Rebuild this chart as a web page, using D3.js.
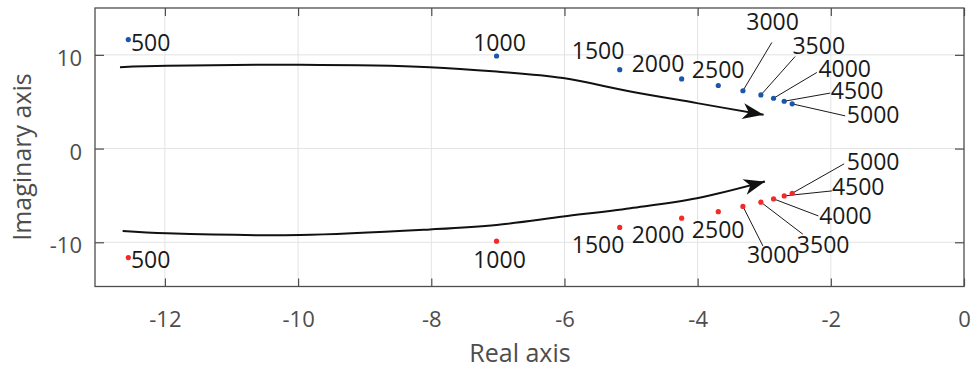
<!DOCTYPE html>
<html>
<head>
<meta charset="utf-8">
<script src="https://cdn.jsdelivr.net/npm/d3@7"></script>
<style>
  html, body { margin: 0; padding: 0; background: #fff; }
  svg { display: block; }
  text { font-family: "Open Sans", "Noto Sans", sans-serif; }
</style>
</head>
<body>
<svg id="chart" width="974" height="371"></svg>
<script>
// Rotor speeds (rpm) for each pole pair
const speeds = [500, 1000, 1500, 2000, 2500, 3000, 3500, 4000, 4500, 5000];

// Pole locations: p = re ± j·im
const poleRe = [-12.55, -7.02, -5.17, -4.24, -3.69, -3.32, -3.05, -2.86, -2.70, -2.58];
const poleIm = [11.63, 9.88, 8.42, 7.43, 6.73, 6.17, 5.72, 5.37, 5.05, 4.77];

// Speed label anchors (left edge, baseline) in axis units
const upperLabelRe = [-12.51, -7.37, -5.89, -4.99, -4.087, -3.27, -2.576, -2.186, -2.00, -1.759];
const upperLabelIm = [10.43, 10.43, 9.53, 8.12, 7.51, 12.67, 10.11, 7.62, 5.27, 2.78];
const lowerLabelRe = [-12.51, -7.37, -5.89, -4.99, -4.087, -3.26, -2.51, -2.175, -1.984, -1.759];
const lowerLabelIm = [-12.77, -12.77, -11.17, -10.10, -9.57, -12.17, -11.10, -8.04, -4.94, -2.27];

// Leader lines for the crowded labels: start point near text, end at the pole
const leaderSpeeds = [3000, 3500, 4000, 4500, 5000];
const upperLeaderRe = [-2.886, -2.536, -2.21, -2.01, -1.785];
const upperLeaderIm = [11.32, 9.82, 8.12, 5.92, 3.49];
const lowerLeaderRe = [-3.02, -2.42, -2.186, -1.984, -1.80];
const lowerLeaderIm = [-10.39, -9.14, -7.19, -4.52, -1.63];

// Trend arrows (increasing speed)
const upperArrowRe = [-12.675, -11.97, -9.97, -8.02, -7.02, -6.02, -5.01, -4.01, -3.01];
const upperArrowIm = [8.69, 8.83, 8.94, 8.69, 8.22, 7.52, 6.09, 4.85, 3.60];
const lowerArrowRe = [-12.635, -11.97, -9.97, -8.02, -7.02, -6.02, -5.01, -4.01, -2.99];
const lowerArrowIm = [-8.79, -9.05, -9.22, -8.63, -8.15, -7.26, -6.36, -5.30, -3.52];

// Axis ticks
const xTicks = [-12, -10, -8, -6, -4, -2, 0];
const yTicks = [-10, 0, 10];

const svg = d3.select("#chart");
const plotL = 95, plotR = 964, plotT = 8, plotB = 286.5;

const x = d3.scaleLinear().domain([-13.05, 0]).range([plotL, plotR]);
const y = d3.scaleLinear().domain([-14.72, 15]).range([plotB, plotT]);

// Plain hyphen-minus for negative tick labels
const tickFmt = d => String(d);

// Grid
const grid = svg.append("g").attr("stroke", "#e3e3e3").attr("stroke-width", 1);
grid.selectAll("line.vx").data(xTicks.filter(t => x(t) > plotL + 1 && x(t) < plotR - 1)).join("line")
  .attr("x1", d => x(d)).attr("x2", d => x(d)).attr("y1", plotT).attr("y2", plotB);
grid.selectAll("line.hy").data(yTicks).join("line")
  .attr("y1", d => y(d)).attr("y2", d => y(d)).attr("x1", plotL).attr("x2", plotR);

// Axes with inward ticks on all four sides
const axisColor = "#4d4d4d";
function styleAxis(g) {
  g.select(".domain").remove();
  g.selectAll(".tick line").attr("stroke", axisColor).attr("stroke-width", 1.2);
  g.selectAll(".tick text").attr("fill", "#4d4d4d").style("font-size", "22px")
    .style("font-family", "'Open Sans', sans-serif");
}
svg.append("g").attr("transform", `translate(0,${plotB})`)
  .call(d3.axisBottom(x).tickValues(xTicks).tickSizeInner(-8).tickSizeOuter(0).tickFormat(tickFmt))
  .call(styleAxis)
  .call(g => g.selectAll(".tick text").attr("dy", null).attr("y", 40.5));
svg.append("g").attr("transform", `translate(0,${plotT})`)
  .call(d3.axisTop(x).tickValues(xTicks).tickSizeInner(-8).tickSizeOuter(0).tickFormat(""))
  .call(styleAxis);
svg.append("g").attr("transform", `translate(${plotL},0)`)
  .call(d3.axisLeft(y).tickValues(yTicks).tickSizeInner(-9).tickSizeOuter(0).tickFormat(tickFmt))
  .call(styleAxis)
  .call(g => g.selectAll(".tick text").attr("x", -13).attr("dy", null).attr("y", 10.5));
svg.append("g").attr("transform", `translate(${plotR},0)`)
  .call(d3.axisRight(y).tickValues(yTicks).tickSizeInner(-9).tickSizeOuter(0).tickFormat(""))
  .call(styleAxis);

// Box
svg.append("rect").attr("x", plotL).attr("y", plotT).attr("width", plotR - plotL).attr("height", plotB - plotT)
  .attr("fill", "none").attr("stroke", axisColor).attr("stroke-width", 1.3);

// Axis titles
svg.append("text").attr("x", 520).attr("y", 362).attr("text-anchor", "middle")
  .attr("fill", "#4d4d4d").style("font-size", "25px").text("Real axis");
svg.append("text").attr("transform", "translate(31,157) rotate(-90)").attr("text-anchor", "middle")
  .attr("fill", "#4d4d4d").style("font-size", "25px").text("Imaginary axis");

// Arrowhead marker
const defs = svg.append("defs");
defs.append("marker").attr("id", "head").attr("markerUnits", "userSpaceOnUse")
  .attr("viewBox", "-22 -10 24 20").attr("refX", 0).attr("refY", 0)
  .attr("markerWidth", 24).attr("markerHeight", 20).attr("orient", "auto")
  .append("path").attr("d", "M0,0 L-21,-8 L-15,0 L-21,8 Z").attr("fill", "#111");

const arrowLine = d3.line().x(d => x(d[0])).y(d => y(d[1])).curve(d3.curveCatmullRom.alpha(0.5));
[[upperArrowRe, upperArrowIm], [lowerArrowRe, lowerArrowIm]].forEach(([re, im]) => {
  const pts = re.map((r, i) => [r, im[i]]);
  svg.append("path").attr("d", arrowLine(pts)).attr("fill", "none")
    .attr("stroke", "#111").attr("stroke-width", 2).attr("marker-end", "url(#head)");
});

// Leader lines
const leaders = svg.append("g").attr("stroke", "#1a1a1a").attr("stroke-width", 1);
leaderSpeeds.forEach((s, i) => {
  const k = speeds.indexOf(s);
  leaders.append("line").attr("x1", x(upperLeaderRe[i])).attr("y1", y(upperLeaderIm[i]))
    .attr("x2", x(poleRe[k])).attr("y2", y(poleIm[k]));
  leaders.append("line").attr("x1", x(lowerLeaderRe[i])).attr("y1", y(lowerLeaderIm[i]))
    .attr("x2", x(poleRe[k])).attr("y2", y(-poleIm[k]));
});

// Poles
svg.append("g").selectAll("circle").data(speeds).join("circle")
  .attr("cx", (d, i) => x(poleRe[i])).attr("cy", (d, i) => y(poleIm[i])).attr("r", 2.6)
  .attr("fill", "#1d55a8");
svg.append("g").selectAll("circle").data(speeds).join("circle")
  .attr("cx", (d, i) => x(poleRe[i])).attr("cy", (d, i) => y(-poleIm[i])).attr("r", 2.6)
  .attr("fill", "#f32a2a");

// Speed labels
const labelStyle = sel => sel.attr("fill", "#1a1a1a").style("font-size", "23px");
svg.append("g").selectAll("text").data(speeds).join("text")
  .attr("x", (d, i) => x(upperLabelRe[i])).attr("y", (d, i) => y(upperLabelIm[i]))
  .call(labelStyle).text(d => d);
svg.append("g").selectAll("text").data(speeds).join("text")
  .attr("x", (d, i) => x(lowerLabelRe[i])).attr("y", (d, i) => y(lowerLabelIm[i]))
  .call(labelStyle).text(d => d);
</script>
</body>
</html>
